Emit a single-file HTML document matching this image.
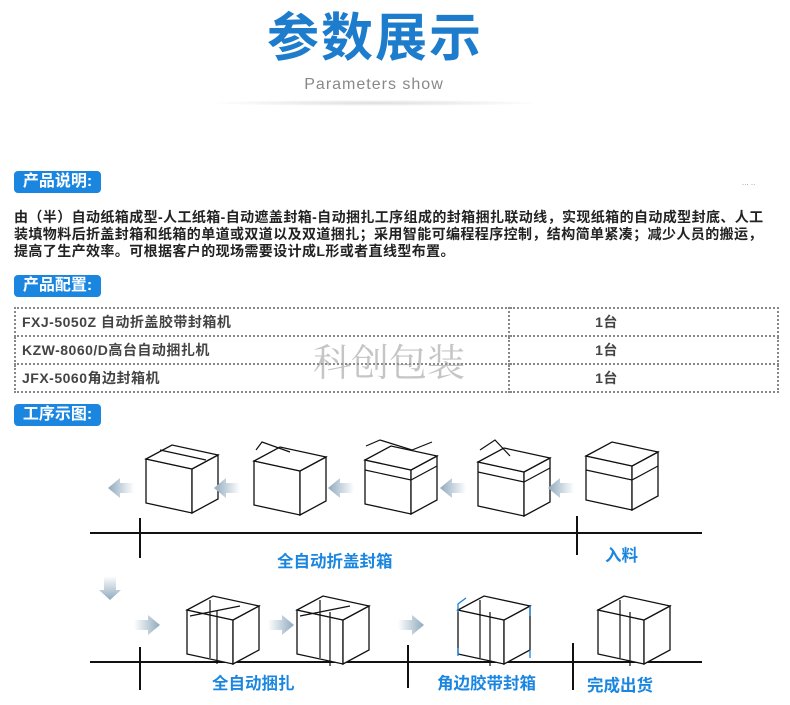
<!DOCTYPE html>
<html><head><meta charset="utf-8"><style>
body{margin:0;width:790px;height:705px;background:#fff;position:relative;overflow:hidden;font-family:"Liberation Sans","Noto Sans CJK SC",sans-serif}
.a{position:absolute}
.badge{position:absolute;left:14px;width:87px;height:22px;background:#1a86e0;border-radius:4px;color:#fff;font-weight:bold;font-size:16px;line-height:22px;text-align:center}
.p{left:14px;top:209px;width:780px;font-size:14px;font-weight:bold;color:#222;line-height:17px;letter-spacing:0.4px;white-space:nowrap}
table{position:absolute;left:14px;top:307px;width:765px;height:85px;border-collapse:collapse;font-size:14px;font-weight:bold;color:#444;letter-spacing:0.5px}
td{border:2px dotted #888;padding:0 6px;height:26px}
.lbl{position:absolute;color:#1a86e0;font-weight:bold;font-size:16.5px}
</style></head><body>
<div class="a" style="left:0;width:750px;top:7px;text-align:center;font-size:52px;font-weight:bold;color:#1e7ccd;letter-spacing:2px;line-height:64px">参数展示</div>
<div class="a" style="left:0;width:748px;top:76px;text-align:center;font-size:16px;color:#888;letter-spacing:1px">Parameters show</div>
<div class="a" style="left:215px;top:100px;width:320px;height:6px;border-radius:50%;background:radial-gradient(ellipse at center,#ddd 0%,#fff 75%)"></div>
<div class="badge" style="top:171px">产品说明:</div>
<div class="a" style="left:742px;top:178px;font-size:8px;color:#999">... ..</div>
<div class="a p">由（半）自动纸箱成型-人工纸箱-自动遮盖封箱-自动捆扎工序组成的封箱捆扎联动线，实现纸箱的自动成型封底、人工<br>装填物料后折盖封箱和纸箱的单道或双道以及双道捆扎；采用智能可编程程序控制，结构简单紧凑；减少人员的搬运，<br>提高了生产效率。可根据客户的现场需要设计成L形或者直线型布置。</div>
<div class="badge" style="top:275px">产品配置:</div>
<table>
<tr><td style="width:480px">FXJ-5050Z 自动折盖胶带封箱机</td><td style="text-align:center;padding-right:80px">1台</td></tr>
<tr><td>KZW-8060/D高台自动捆扎机</td><td style="text-align:center;padding-right:80px">1台</td></tr>
<tr><td>JFX-5060角边封箱机</td><td style="text-align:center;padding-right:80px">1台</td></tr>
</table>
<div class="a" style="left:313px;top:332px;font-family:'Liberation Serif','Noto Serif CJK SC',serif;font-size:38px;color:rgba(150,150,150,0.55)">科创包装</div>
<div class="badge" style="top:404px">工序示图:</div>
<svg class="a" style="left:0;top:0" width="790" height="705">
<defs>
<linearGradient id="g" x1="0" x2="1"><stop offset="0" stop-color="#8fa9bd"/><stop offset="1" stop-color="#fff"/></linearGradient>
<linearGradient id="gr" x1="1" x2="0"><stop offset="0" stop-color="#8fa9bd"/><stop offset="1" stop-color="#fff"/></linearGradient>
<linearGradient id="gd" x1="0" y1="1" x2="0" y2="0"><stop offset="0" stop-color="#8fa9bd"/><stop offset="1" stop-color="#fff"/></linearGradient>
<g id="bx" fill="#fff" stroke="#111" stroke-width="1.3">
<path d="M0,14 L46,24 L46,68 L0,58Z"/><path d="M46,24 L72,10 L72,54 L46,68Z"/><path d="M0,14 L26,0 L72,10 L46,24Z"/></g>
<path id="la" d="M0,10 L12,0 L12,5 L26,5 L26,15 L12,15 L12,20Z" fill="url(#g)"/>
<path id="ra" d="M26,10 L14,0 L14,5 L0,5 L0,15 L14,15 L14,20Z" fill="url(#gr)"/>
</defs>
<g stroke="#111" stroke-width="2">
<line x1="90" y1="533" x2="702" y2="533"/><line x1="140" y1="518" x2="140" y2="558"/><line x1="577" y1="516" x2="577" y2="555"/>
<line x1="90" y1="662" x2="702" y2="662"/><line x1="140" y1="647" x2="140" y2="690"/><line x1="408" y1="645" x2="408" y2="688"/><line x1="573" y1="643" x2="573" y2="690"/>
</g>
<use href="#bx" x="146" y="445"/><use href="#bx" x="254" y="447"/><use href="#bx" x="365" y="446"/><use href="#bx" x="478" y="448"/><use href="#bx" x="586" y="442"/>
<g stroke="#111" fill="none" stroke-width="1.2"><path d="M256,450 L262,442 L290,452 M366,446 L380,440 L412,450 L432,442 M480,450 L495,440 L510,456 M586,470 L632,480 L658,466 M160,450 L206,460 M478,472 L524,482 L550,468 M365,470 L411,480 L437,466"/></g>
<use href="#la" x="108" y="478"/><use href="#la" x="214" y="478"/><use href="#la" x="328" y="478"/><use href="#la" x="440" y="478"/><use href="#la" x="548" y="478"/>
<use href="#bx" x="187" y="596"/><use href="#bx" x="297" y="596"/><use href="#bx" x="458" y="596"/><use href="#bx" x="598" y="596"/>
<g stroke="#111" fill="none" stroke-width="1.2"><path d="M210,600 L210,658 M217,610 L217,664 M320,600 L320,658 M330,612 L330,666 M480,600 L480,658 M490,612 L490,666 M620,600 L620,658 M630,612 L630,666 M190,616 L240,606 M300,616 L350,606"/></g>
<g stroke="#1a86e0" fill="none" stroke-width="1.3"><path d="M458,612 L458,604 L466,598 M530,606 L530,616 M458,648 L458,656 M530,650 L530,658"/></g>
<use href="#ra" x="134" y="615"/><use href="#ra" x="268" y="615"/><use href="#ra" x="398" y="615"/>
<path d="M104,576 L116,576 L116,590 L121,590 L110,600 L99,590 L104,590Z" fill="url(#gd)"/>
</svg>
<div class="lbl" style="left:277px;top:548px">全自动折盖封箱</div>
<div class="lbl" style="left:605px;top:542px">入料</div>
<div class="lbl" style="left:212px;top:670px">全自动捆扎</div>
<div class="lbl" style="left:437px;top:670px">角边胶带封箱</div>
<div class="lbl" style="left:587px;top:672px">完成出货</div>
</body></html>
